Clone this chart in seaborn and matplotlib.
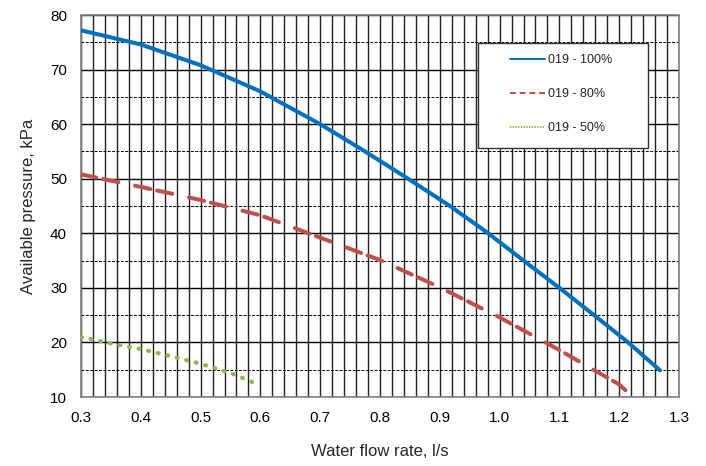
import numpy as np
import pandas as pd
import matplotlib.pyplot as plt
import seaborn as sns
from matplotlib.patches import Rectangle
from matplotlib.ticker import MultipleLocator, FormatStrFormatter

flow_100 = [0.30, 0.40, 0.50, 0.60, 0.70, 0.775, 0.847, 0.917, 0.981, 1.04, 1.10, 1.158, 1.215, 1.268]
pres_100 = [77.2, 74.6, 70.8, 66.0, 60.0, 55.0, 50.0, 45.0, 40.0, 35.0, 30.0, 25.0, 20.0, 14.9]

flow_80 = [0.30, 0.40, 0.50, 0.60, 0.70, 0.80, 0.90, 1.00, 1.10, 1.20, 1.25]
pres_80 = [50.8, 48.5, 46.1, 43.3, 39.2, 35.1, 30.1, 24.6, 18.6, 12.3, 7.2]

flow_50 = [0.30, 0.35, 0.40, 0.45, 0.50, 0.55, 0.59]
pres_50 = [21.0, 19.8, 18.8, 17.5, 16.1, 14.4, 12.6]

labels = ['019 - 100%', '019 - 80%', '019 - 50%']

sns.set_theme(style="white")
plt.rcParams['font.family'] = ['Liberation Sans', 'DejaVu Sans']

fig, ax = plt.subplots(figsize=[7.06, 4.66], dpi=100)
fig.subplots_adjust(left=0.1147, right=0.9618, top=0.9678, bottom=0.148)

df100 = pd.DataFrame({'flow': flow_100, 'pressure': pres_100})
df80 = pd.DataFrame({'flow': flow_80, 'pressure': pres_80})
df50 = pd.DataFrame({'flow': flow_50, 'pressure': pres_50})

sns.lineplot(data=df100, x='flow', y='pressure', color='#0070C0', linewidth=2.9,
             ax=ax, label=labels[0], solid_capstyle='round', zorder=5)
sns.lineplot(data=df80, x='flow', y='pressure', color='#C0504D', linewidth=2.9,
             ax=ax, label=labels[1], zorder=5)
sns.lineplot(data=df50, x='flow', y='pressure', color='#8DB84A', linewidth=3.0,
             ax=ax, label=labels[2], zorder=5)
lines = ax.get_lines()
lines[1].set_dashes([3.9, 1.7, 3.9, 4.2])
lines[1].set_dash_capstyle('round')
lines[2].set_dashes([0.25, 2.1])
lines[2].set_dash_capstyle('round')

ax.set_xlim(0.3, 1.3)
ax.set_ylim(10, 80)
ax.xaxis.set_major_locator(MultipleLocator(0.1))
ax.xaxis.set_minor_locator(MultipleLocator(0.02))
ax.xaxis.set_major_formatter(FormatStrFormatter('%.1f'))
ax.yaxis.set_major_locator(MultipleLocator(10))
ax.yaxis.set_minor_locator(MultipleLocator(5))

ax.grid(which='major', axis='y', color='black', linewidth=1.0, linestyle='-')
ax.grid(which='minor', axis='y', color='black', linewidth=0.7, linestyle=(0, (3, 1.5)))
ax.grid(which='both', axis='x', color='#222222', linewidth=1.0, linestyle='-')
ax.set_axisbelow(True)

for s in ax.spines.values():
    s.set_color('#808080')
    s.set_linewidth(1.2)

ax.tick_params(axis='both', which='major', direction='out', length=4, width=1,
               color='#808080', labelsize=11, labelcolor='black', pad=6)
ax.tick_params(axis='both', which='minor', length=0)

ax.set_xlabel('Water flow rate, l/s', fontsize=12, labelpad=14)
ax.set_ylabel('Available pressure, kPa', fontsize=12, labelpad=10)

# legend box drawn separately so the padding matches the original
box = Rectangle((0.664, 0.6518), 0.2842, 0.2749, transform=ax.transAxes,
                facecolor='white', edgecolor='#333333', linewidth=1.0, zorder=8)
ax.add_patch(box)

leg = ax.legend(loc='upper left', bbox_to_anchor=(0.7174, 0.897), frameon=False,
                fontsize=9, borderpad=0, labelspacing=1.75, handlelength=2.8,
                handletextpad=0.25, borderaxespad=0)
leg.set_zorder(10)
for h in leg.get_lines():
    h.set_linewidth(1.4)
leg.get_lines()[1].set_dashes([3.0, 2.0])
leg.get_lines()[1].set_dash_capstyle('butt')
leg.get_lines()[2].set_dashes([0.7, 0.7])
leg.get_lines()[2].set_dash_capstyle('butt')

plt.savefig('out.png', dpi=100)
